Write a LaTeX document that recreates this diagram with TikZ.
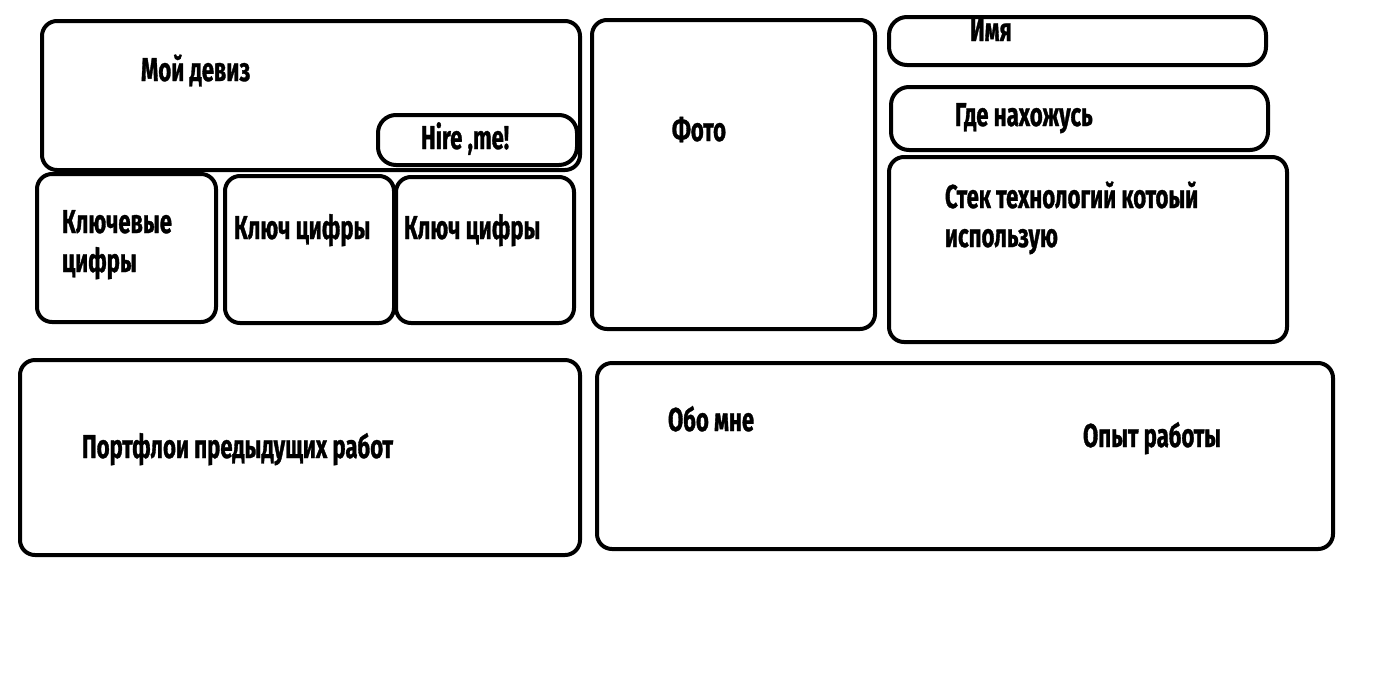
\documentclass[tikz,border=0pt]{standalone}
\usepackage{fontspec}
\newfontfamily\imp{Fira Sans}[FakeStretch=0.67,FakeBold=1]
\begin{document}
\begin{tikzpicture}[x=1pt,y=-1pt,
  box/.style={draw, line width=4pt, rounded corners=15pt, inner sep=0pt, outer sep=0pt, anchor=north west},
  pill/.style={box, rounded corners=18pt},
  lbl/.style={inner sep=0pt, outer sep=0pt, anchor=base west, font=\imp\bfseries\fontsize{33}{39}\selectfont, align=left}]
\useasboundingbox (0,0) rectangle (1396,673);
% boxes
\node[box, minimum width=538pt, minimum height=149pt] (deviz) at (42,21) {};
\node[pill, minimum width=199pt, minimum height=50pt] (hire) at (378,115) {};
\node[box, minimum width=179pt, minimum height=148pt] (k1) at (37,174) {};
\node[box, minimum width=169pt, minimum height=147pt] (k2) at (225,176) {};
\node[box, minimum width=178pt, minimum height=146pt] (k3) at (396,177) {};
\node[box, minimum width=283pt, minimum height=309pt] (foto) at (592,20) {};
\node[pill, minimum width=377pt, minimum height=48pt] (name) at (889,17) {};
\node[pill, minimum width=377pt, minimum height=63pt] (where) at (891,87) {};
\node[box, minimum width=398pt, minimum height=185pt] (stack) at (889,157) {};
\node[box, minimum width=560pt, minimum height=195pt] (port) at (20,360) {};
\node[box, minimum width=736pt, minimum height=186pt] (about) at (597,363) {};
% texts
\node[lbl] (tdeviz) at (141,81) {Мой девиз};
\node[lbl] (thire) at (421,149) {Hire ,me!};
\node[lbl] (tk1) at (62,272) {Ключевые\\цифры};
\node[lbl] (tk2) at (234,239) {Ключ цифры};
\node[lbl] (tk3) at (404,239) {Ключ цифры};
\node[lbl] (tfoto) at (672,141) {Фото};
\node[lbl] (tname) at (970,41) {Имя};
\node[lbl] (twhere) at (955,126) {Где нахожусь};
\node[lbl] (tstack) at (945,247) {Стек технологий котоый\\использую};
\node[lbl] (tport) at (82,458) {Портфлои предыдущих работ};
\node[lbl] (tabout) at (668,431) {Обо мне};
\node[lbl] (texp) at (1083,447) {Опыт работы};
\end{tikzpicture}
\end{document}
